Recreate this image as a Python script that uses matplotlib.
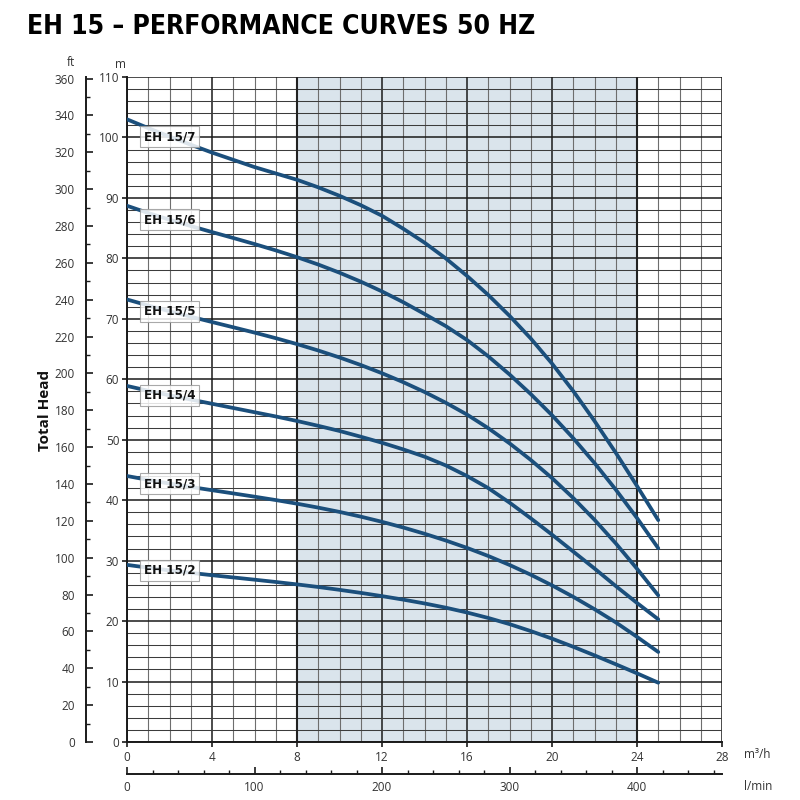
#!/usr/bin/env python3
"""EH 15 performance curves, 50 Hz."""
import matplotlib

matplotlib.use("Agg")
from matplotlib import pyplot as plt
from matplotlib import font_manager
from matplotlib.ticker import MultipleLocator

flow = list(range(0, 26))

# total head in m
head_eh15_7 = [103.0, 101.55, 100.15, 98.8, 97.5, 96.3, 95.1, 94.05, 93.0, 91.75,
               90.35, 88.8, 87.05, 84.9, 82.6, 80.0, 77.1, 73.95, 70.5, 66.75,
               62.6, 58.05, 53.1, 47.85, 42.35, 36.7]
head_eh15_6 = [88.7, 87.5, 86.4, 85.35, 84.35, 83.37, 82.37, 81.32, 80.2, 78.98,
               77.63, 76.15, 74.53, 72.75, 70.8, 68.8, 66.5, 63.8, 60.8, 57.55,
               54.05, 50.25, 46.15, 41.75, 37.05, 32.05]
head_eh15_5 = [73.2, 72.2, 71.25, 70.35, 69.47, 68.6, 67.72, 66.8, 65.82, 64.76,
               63.61, 62.36, 61.0, 59.52, 57.9, 56.12, 54.16, 51.91, 49.41, 46.66,
               43.66, 40.36, 36.76, 32.86, 28.66, 24.26]
head_eh15_4 = [58.9, 58.1, 57.35, 56.65, 55.95, 55.25, 54.55, 53.85, 53.1, 52.3,
               51.45, 50.5, 49.5, 48.4, 47.2, 45.75, 44.0, 42.0, 39.6, 37.0,
               34.3, 31.5, 28.7, 25.8, 23.0, 20.3]
head_eh15_3 = [44.0, 43.35, 42.75, 42.19, 41.65, 41.12, 40.58, 40.02, 39.42, 38.77,
               38.06, 37.28, 36.42, 35.48, 34.45, 33.33, 32.11, 30.77, 29.29, 27.67,
               25.91, 24.01, 21.97, 19.79, 17.39, 14.89]
head_eh15_2 = [29.3, 28.83, 28.39, 27.98, 27.59, 27.22, 26.85, 26.47, 26.07, 25.64,
               25.17, 24.67, 24.13, 23.55, 22.92, 22.22, 21.42, 20.52, 19.5, 18.35,
               17.1, 15.75, 14.33, 12.86, 11.36, 9.81]

models = ["EH 15/7", "EH 15/6", "EH 15/5", "EH 15/4", "EH 15/3", "EH 15/2"]
heads = [head_eh15_7, head_eh15_6, head_eh15_5, head_eh15_4, head_eh15_3, head_eh15_2]

# recommended working range (m3/h)
range_low, range_high = 8, 24

W = H = 800
plt.rcParams["font.family"] = ["Open Sans", "DejaVu Sans"]


def narrow_bold_font():
    """Look for an installed condensed/narrow bold face."""
    best = None
    for f in font_manager.fontManager.ttflist:
        narrow = (str(f.stretch) in ("condensed", "semi-condensed", "extra-condensed")
                  or "Narrow" in f.name or "Condensed" in f.name
                  or "Condensed" in f.fname or "Narrow" in f.fname)
        if not narrow or f.style != "normal":
            continue
        w = f.weight if isinstance(f.weight, int) else 700 if "bold" in str(f.weight) else 400
        if best is None or abs(w - 700) < abs(best[0] - 700):
            best = (w, f.fname)
    return best[1] if best else None


narrow_path = narrow_bold_font()

fig = plt.figure(figsize=(8, 8), dpi=100)
ax = fig.add_axes([127 / W, 58 / H, 595 / W, 665 / H])
ax.set_xlim(0, 28)
ax.set_ylim(0, 110)

ax.axvspan(range_low, range_high, color="#dae4ec", zorder=0, lw=0)
ax.xaxis.set_major_locator(MultipleLocator(4))
ax.xaxis.set_minor_locator(MultipleLocator(1))
ax.yaxis.set_major_locator(MultipleLocator(10))
ax.yaxis.set_minor_locator(MultipleLocator(2))
ax.set_axisbelow(True)
ax.xaxis.grid(which="minor", color="#6e6e6e", lw=0.8)
ax.yaxis.grid(which="minor", color="#3c3c3c", lw=0.75)
ax.grid(which="major", color="#1a1a1a", lw=1.1)
for xv in (range_low, range_high):
    ax.axvline(xv, color="#222222", lw=1.5, zorder=0.6)

for side in ("top", "right"):
    ax.spines[side].set_visible(False)
for side in ("left", "bottom"):
    ax.spines[side].set_linewidth(1.4)
    ax.spines[side].set_color("#1a1a1a")
ax.tick_params(which="major", direction="out", length=3.5, width=1.2,
               color="#1a1a1a", labelsize=8.5, labelcolor="#333333", pad=2)
ax.tick_params(axis="x", which="major", pad=3)
ax.tick_params(which="minor", length=0)

label_font = dict(fontsize=9, fontweight="bold")
if narrow_path:
    label_font = dict(fontproperties=font_manager.FontProperties(fname=narrow_path, size=9.5))

for name, head in zip(models, heads):
    ax.plot(flow, head, color="#1b4f7c", lw=2.7, solid_capstyle="round", zorder=3)
    ax.text(flow[2], head[2], name, ha="center", va="center", color="#111111",
            zorder=4, bbox=dict(boxstyle="square,pad=0.3", facecolor="white",
                                edgecolor="#9a9a9a", lw=0.8, alpha=0.85),
            **label_font)

# feet scale on the far left
sec_ft = ax.secondary_yaxis(-41 / 595, functions=(lambda m: m / 0.3048,
                                                  lambda f: f * 0.3048))
sec_ft.yaxis.set_major_locator(MultipleLocator(20))
sec_ft.yaxis.set_minor_locator(MultipleLocator(10))
sec_ft.spines["left"].set_linewidth(1.4)
sec_ft.spines["left"].set_color("#1a1a1a")
sec_ft.tick_params(which="major", direction="in", length=5, width=1.2,
                   color="#1a1a1a", labelsize=8.5, labelcolor="#333333", pad=8)
sec_ft.tick_params(which="minor", direction="in", length=3, width=1.0,
                   color="#1a1a1a")

# l/min scale below
sec_l = ax.secondary_xaxis(-32 / 665, functions=(lambda q: q * 1000 / 60,
                                                 lambda l: l * 60 / 1000))
sec_l.xaxis.set_major_locator(MultipleLocator(100))
sec_l.xaxis.set_minor_locator(MultipleLocator(20))
sec_l.spines["bottom"].set_linewidth(1.4)
sec_l.spines["bottom"].set_color("#1a1a1a")
sec_l.tick_params(which="major", direction="in", length=5, width=1.2,
                  color="#1a1a1a", labelsize=8.5, labelcolor="#333333", pad=5)
sec_l.tick_params(which="minor", direction="in", length=3, width=1.0,
                  color="#1a1a1a")

fig.text(120 / W, 1 - 64 / H, "m", ha="center", va="center", fontsize=8.5,
         color="#333333")
fig.text(71 / W, 1 - 63 / H, "ft", ha="center", va="center", fontsize=8.5,
         color="#333333")
fig.text(744 / W, 1 - 754 / H, "m³/h", ha="left", va="center", fontsize=8.5,
         color="#333333")
fig.text(744 / W, 1 - 786 / H, "l/min", ha="left", va="center", fontsize=8.5,
         color="#333333")
fig.text(45 / W, 1 - 410 / H, "Total Head", rotation=90, ha="center",
         va="center", fontsize=11, fontweight="bold", color="#111111")

title = "EH 15 – PERFORMANCE CURVES 50 HZ"
if narrow_path:
    title_font = dict(fontproperties=font_manager.FontProperties(fname=narrow_path, size=19))
else:
    title_font = dict(fontsize=16, fontweight="bold", family=["Roboto", "DejaVu Sans"])
fig.text(27 / W, 1 - 27 / H, title, ha="left", va="center", color="#000000",
         **title_font)

fig.savefig("out.png", dpi=100)
